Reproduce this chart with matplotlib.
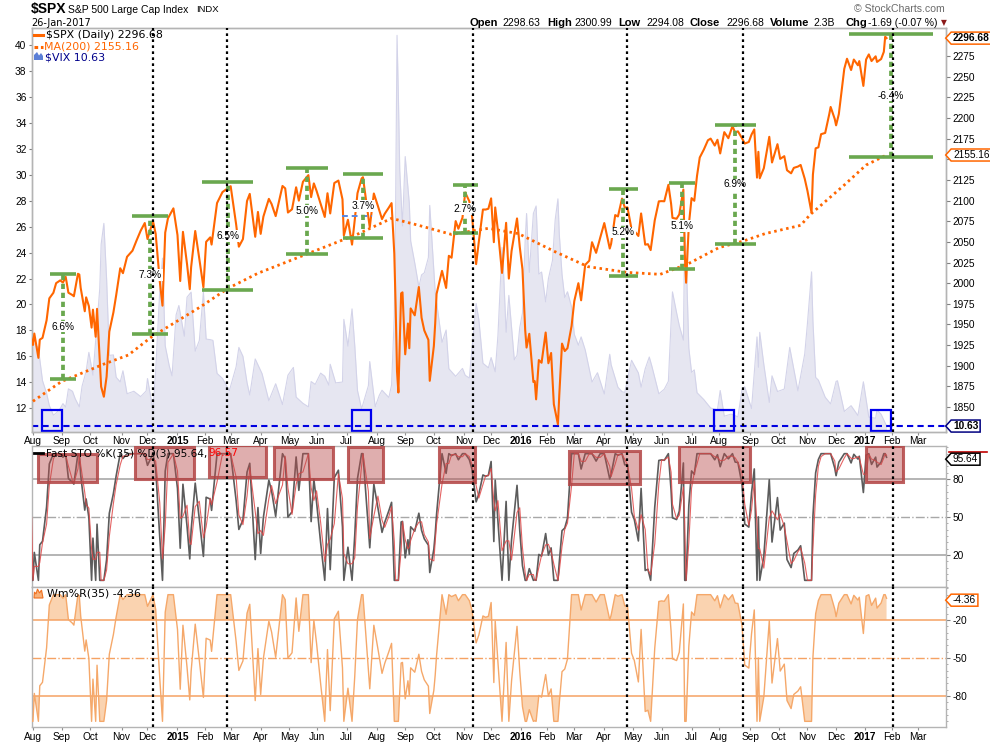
import numpy as np
import pandas as pd
import matplotlib
matplotlib.use("Agg")
import matplotlib.pyplot as plt
from matplotlib.path import Path
from matplotlib.patches import Rectangle, Polygon
from matplotlib.ticker import MultipleLocator, FixedFormatter, FixedLocator
from matplotlib.transforms import blended_transform_factory
from matplotlib.lines import Line2D

# ---------------- data ----------------
HOLIDAYS = ["2014-07-04", "2014-09-01", "2014-11-27", "2014-12-25",
            "2015-01-01", "2015-01-19", "2015-02-16", "2015-04-03", "2015-05-25",
            "2015-07-03", "2015-09-07", "2015-11-26", "2015-12-25",
            "2016-01-01", "2016-01-18", "2016-02-15", "2016-03-25", "2016-05-30",
            "2016-07-04", "2016-09-05", "2016-11-24", "2016-12-26",
            "2017-01-02", "2017-01-16", "2017-02-20", "2017-04-14"]

SPX_DATES = [
    "2014-06-20", "2014-06-27", "2014-07-03", "2014-07-11", "2014-07-17", "2014-07-24", "2014-07-31",
    "2014-08-01", "2014-08-04", "2014-08-07", "2014-08-08", "2014-08-12", "2014-08-15", "2014-08-19",
    "2014-08-22", "2014-08-26", "2014-08-29", "2014-09-03", "2014-09-05", "2014-09-09", "2014-09-12",
    "2014-09-15", "2014-09-18", "2014-09-19", "2014-09-22", "2014-09-25", "2014-09-26", "2014-09-30",
    "2014-10-02", "2014-10-03", "2014-10-07", "2014-10-08", "2014-10-10", "2014-10-13", "2014-10-15",
    "2014-10-17", "2014-10-21", "2014-10-24", "2014-10-28", "2014-10-31", "2014-11-04", "2014-11-07",
    "2014-11-13", "2014-11-18", "2014-11-21", "2014-11-26", "2014-12-01", "2014-12-05", "2014-12-09",
    "2014-12-12", "2014-12-16", "2014-12-18", "2014-12-22", "2014-12-29", "2015-01-02", "2015-01-06",
    "2015-01-08", "2015-01-13", "2015-01-15", "2015-01-16", "2015-01-22", "2015-01-27", "2015-01-30",
    "2015-02-03", "2015-02-06", "2015-02-09", "2015-02-13", "2015-02-20", "2015-02-25", "2015-03-02",
    "2015-03-06", "2015-03-10", "2015-03-13", "2015-03-18", "2015-03-20", "2015-03-26", "2015-03-30",
    "2015-04-01", "2015-04-06", "2015-04-10", "2015-04-14", "2015-04-17", "2015-04-24", "2015-04-28",
    "2015-04-30", "2015-05-05", "2015-05-08", "2015-05-12", "2015-05-15", "2015-05-21", "2015-05-26",
    "2015-05-28", "2015-06-01", "2015-06-04", "2015-06-09", "2015-06-11", "2015-06-15", "2015-06-18",
    "2015-06-23", "2015-06-26", "2015-06-29", "2015-07-02", "2015-07-08", "2015-07-10", "2015-07-14",
    "2015-07-17", "2015-07-20", "2015-07-24", "2015-07-27", "2015-07-30", "2015-08-04", "2015-08-07",
    "2015-08-11", "2015-08-14", "2015-08-18", "2015-08-20", "2015-08-21", "2015-08-24", "2015-08-25",
    "2015-08-27", "2015-08-28", "2015-09-01", "2015-09-03", "2015-09-04", "2015-09-08", "2015-09-11",
    "2015-09-16", "2015-09-18", "2015-09-22", "2015-09-25", "2015-09-28", "2015-10-01", "2015-10-02",
    "2015-10-05", "2015-10-09", "2015-10-14", "2015-10-16", "2015-10-20", "2015-10-23", "2015-10-27",
    "2015-10-30", "2015-11-03", "2015-11-06", "2015-11-10", "2015-11-13", "2015-11-17", "2015-11-20",
    "2015-11-24", "2015-11-27", "2015-12-01", "2015-12-03", "2015-12-04", "2015-12-08", "2015-12-11",
    "2015-12-16", "2015-12-18", "2015-12-22", "2015-12-29", "2015-12-31", "2016-01-05", "2016-01-07",
    "2016-01-08", "2016-01-12", "2016-01-15", "2016-01-19", "2016-01-20", "2016-01-22", "2016-01-26",
    "2016-01-29", "2016-02-02", "2016-02-04", "2016-02-08", "2016-02-11", "2016-02-12", "2016-02-17",
    "2016-02-19", "2016-02-23", "2016-02-26", "2016-03-01", "2016-03-04", "2016-03-08", "2016-03-11",
    "2016-03-16", "2016-03-18", "2016-03-23", "2016-03-29", "2016-04-01", "2016-04-07", "2016-04-08",
    "2016-04-13", "2016-04-15", "2016-04-20", "2016-04-22", "2016-04-26", "2016-04-29", "2016-05-03",
    "2016-05-06", "2016-05-10", "2016-05-13", "2016-05-17", "2016-05-19", "2016-05-24", "2016-05-27",
    "2016-06-01", "2016-06-03", "2016-06-08", "2016-06-10", "2016-06-13", "2016-06-16", "2016-06-20",
    "2016-06-23", "2016-06-24", "2016-06-27", "2016-06-29", "2016-07-01", "2016-07-06", "2016-07-08",
    "2016-07-12", "2016-07-15", "2016-07-20", "2016-07-22", "2016-07-27", "2016-07-29", "2016-08-02",
    "2016-08-05", "2016-08-10", "2016-08-15", "2016-08-17", "2016-08-19", "2016-08-24", "2016-08-26",
    "2016-08-31", "2016-09-02", "2016-09-07", "2016-09-09", "2016-09-12", "2016-09-13", "2016-09-16",
    "2016-09-22", "2016-09-26", "2016-09-30", "2016-10-04", "2016-10-07", "2016-10-11", "2016-10-14",
    "2016-10-18", "2016-10-21", "2016-10-25", "2016-10-28", "2016-11-01", "2016-11-04", "2016-11-07",
    "2016-11-09", "2016-11-11", "2016-11-15", "2016-11-18", "2016-11-23", "2016-11-25", "2016-11-30",
    "2016-12-01", "2016-12-05", "2016-12-09", "2016-12-13", "2016-12-16", "2016-12-20", "2016-12-23",
    "2016-12-27", "2016-12-30", "2017-01-04", "2017-01-06", "2017-01-10", "2017-01-13", "2017-01-17",
    "2017-01-20", "2017-01-24", "2017-01-25", "2017-01-26"]
SPX_CLOSE = [
    1962.87, 1960.96, 1985.44, 1967.57, 1958.12, 1987.98, 1930.67,
    1925.15, 1938.99, 1909.57, 1931.59, 1933.75, 1955.06, 1981.60,
    1988.40, 2000.02, 2003.37, 2000.72, 2007.71, 1988.44, 1985.54,
    1984.13, 2011.36, 2010.40, 1994.29, 1965.99, 1982.85, 1972.29,
    1946.17, 1967.90, 1935.10, 1968.89, 1906.13, 1874.74, 1862.49,
    1886.76, 1941.28, 1964.58, 1985.05, 2018.05, 2012.10, 2031.92,
    2039.33, 2051.80, 2063.50, 2072.83, 2053.44, 2075.37, 2059.82,
    2002.33, 1972.74, 2061.23, 2078.54, 2090.57, 2058.20, 2002.61,
    2062.14, 2023.03, 1992.67, 2019.42, 2063.15, 2029.55, 1994.99,
    2050.03, 2055.47, 2046.74, 2096.99, 2110.30, 2113.86, 2117.39,
    2071.26, 2044.16, 2053.40, 2099.50, 2108.10, 2056.15, 2086.24,
    2059.69, 2080.62, 2102.06, 2095.84, 2081.18, 2117.69, 2114.76,
    2085.51, 2089.46, 2116.10, 2099.87, 2122.73, 2130.82, 2104.20,
    2120.79, 2111.73, 2095.84, 2080.15, 2108.86, 2084.43, 2121.24,
    2124.20, 2101.49, 2057.64, 2076.78, 2046.68, 2076.62, 2108.95,
    2126.64, 2128.28, 2079.65, 2067.64, 2108.57, 2093.32, 2077.57,
    2084.07, 2091.54, 2096.92, 2035.73, 1970.89, 1893.21, 1867.61,
    1987.66, 1988.87, 1913.85, 1951.13, 1921.22, 1969.41, 1961.05,
    1995.31, 1958.08, 1942.74, 1931.34, 1881.77, 1923.82, 1951.36,
    1987.05, 2014.89, 1994.24, 2033.11, 2030.77, 2075.15, 2065.89,
    2079.36, 2109.79, 2099.20, 2081.72, 2023.04, 2050.44, 2089.17,
    2089.14, 2090.11, 2102.63, 2049.62, 2091.69, 2063.59, 2012.37,
    2073.07, 2005.55, 2038.97, 2078.36, 2043.94, 2016.71, 1943.09,
    1922.03, 1938.68, 1880.33, 1881.33, 1859.33, 1906.90, 1903.63,
    1940.24, 1903.03, 1915.45, 1853.44, 1829.08, 1864.78, 1926.82,
    1917.78, 1921.27, 1948.05, 1978.35, 1999.99, 1979.26, 2022.19,
    2027.22, 2049.58, 2036.71, 2055.01, 2072.78, 2041.91, 2047.60,
    2082.42, 2080.73, 2102.40, 2091.58, 2091.70, 2065.30, 2063.37,
    2057.14, 2084.39, 2046.61, 2047.21, 2040.04, 2076.06, 2099.06,
    2099.33, 2099.13, 2119.12, 2096.07, 2079.06, 2077.99, 2083.25,
    2113.32, 2037.41, 2000.54, 2070.77, 2102.95, 2099.73, 2129.90,
    2152.14, 2161.74, 2173.02, 2175.03, 2166.58, 2173.60, 2157.03,
    2182.87, 2175.49, 2190.15, 2182.22, 2183.87, 2175.44, 2169.04,
    2170.95, 2179.98, 2186.16, 2127.81, 2159.04, 2127.02, 2139.16,
    2177.18, 2146.10, 2168.27, 2150.49, 2153.74, 2136.73, 2132.98,
    2139.60, 2141.16, 2143.16, 2126.41, 2111.72, 2085.18, 2131.52,
    2163.26, 2164.45, 2180.39, 2181.90, 2204.72, 2213.35, 2198.81,
    2191.08, 2204.71, 2259.53, 2271.72, 2258.07, 2270.76, 2263.79,
    2268.88, 2238.83, 2270.75, 2276.98, 2268.90, 2274.64, 2267.89,
    2271.31, 2280.07, 2298.37, 2296.68]

MA200_DATES = ["2014-08-01", "2014-09-02", "2014-10-15", "2014-11-10", "2014-12-04", "2015-01-28",
               "2015-02-26", "2015-03-30", "2015-05-21", "2015-07-15", "2015-08-18", "2015-09-15",
               "2015-10-20", "2015-11-27", "2015-12-30", "2016-02-09", "2016-03-15", "2016-04-26",
               "2016-05-31", "2016-06-28", "2016-08-01", "2016-08-25", "2016-09-19", "2016-10-25",
               "2016-11-03", "2016-12-09", "2017-01-04", "2017-01-26"]
MA200_VALUES = [1857, 1881, 1902, 1913, 1935, 1971.5,
                1993.7, 2012, 2036, 2060, 2078.5, 2070.4,
                2059, 2066.4, 2060, 2038, 2020, 2013,
                2010.7, 2023, 2043, 2051, 2060, 2070,
                2083, 2118.8, 2143, 2155.16]

VIX_DATES = [
    "2014-07-31", "2014-08-01", "2014-08-05", "2014-08-07", "2014-08-08", "2014-08-12", "2014-08-15",
    "2014-08-19", "2014-08-22", "2014-08-26", "2014-08-29", "2014-09-03", "2014-09-05", "2014-09-09",
    "2014-09-12", "2014-09-16", "2014-09-19", "2014-09-23", "2014-09-26", "2014-09-30", "2014-10-03",
    "2014-10-07", "2014-10-10", "2014-10-13", "2014-10-15", "2014-10-17", "2014-10-21", "2014-10-24",
    "2014-10-28", "2014-10-31", "2014-11-04", "2014-11-07", "2014-11-14", "2014-11-21", "2014-11-28",
    "2014-12-01", "2014-12-05", "2014-12-09", "2014-12-12", "2014-12-16", "2014-12-18", "2014-12-23",
    "2014-12-26", "2014-12-31", "2015-01-05", "2015-01-09", "2015-01-13", "2015-01-16", "2015-01-22",
    "2015-01-27", "2015-01-30", "2015-02-03", "2015-02-06", "2015-02-10", "2015-02-13", "2015-02-20",
    "2015-02-27", "2015-03-06", "2015-03-10", "2015-03-13", "2015-03-18", "2015-03-20", "2015-03-26",
    "2015-04-02", "2015-04-10", "2015-04-17", "2015-04-24", "2015-04-30", "2015-05-06", "2015-05-08",
    "2015-05-15", "2015-05-21", "2015-05-26", "2015-05-29", "2015-06-04", "2015-06-09", "2015-06-12",
    "2015-06-15", "2015-06-19", "2015-06-26", "2015-06-29", "2015-07-02", "2015-07-08", "2015-07-10",
    "2015-07-14", "2015-07-17", "2015-07-24", "2015-07-27", "2015-07-31", "2015-08-05", "2015-08-07",
    "2015-08-14", "2015-08-18", "2015-08-20", "2015-08-21", "2015-08-24", "2015-08-25", "2015-08-26",
    "2015-08-28", "2015-09-01", "2015-09-04", "2015-09-08", "2015-09-11", "2015-09-16", "2015-09-18",
    "2015-09-22", "2015-09-25", "2015-09-28", "2015-10-02", "2015-10-06", "2015-10-09", "2015-10-14",
    "2015-10-16", "2015-10-23", "2015-10-30", "2015-11-03", "2015-11-06", "2015-11-13", "2015-11-17",
    "2015-11-20", "2015-11-27", "2015-12-01", "2015-12-04", "2015-12-08", "2015-12-11", "2015-12-14",
    "2015-12-16", "2015-12-18", "2015-12-24", "2015-12-29", "2015-12-31", "2016-01-05", "2016-01-07",
    "2016-01-08", "2016-01-12", "2016-01-15", "2016-01-20", "2016-01-22", "2016-01-26", "2016-01-29",
    "2016-02-02", "2016-02-05", "2016-02-09", "2016-02-11", "2016-02-12", "2016-02-17", "2016-02-19",
    "2016-02-23", "2016-02-26", "2016-03-01", "2016-03-04", "2016-03-08", "2016-03-11", "2016-03-18",
    "2016-03-24", "2016-04-01", "2016-04-07", "2016-04-08", "2016-04-15", "2016-04-20", "2016-04-22",
    "2016-04-29", "2016-05-06", "2016-05-10", "2016-05-13", "2016-05-18", "2016-05-20", "2016-05-27",
    "2016-06-03", "2016-06-08", "2016-06-13", "2016-06-16", "2016-06-20", "2016-06-23", "2016-06-24",
    "2016-06-27", "2016-06-29", "2016-07-01", "2016-07-06", "2016-07-08", "2016-07-15", "2016-07-22",
    "2016-07-29", "2016-08-02", "2016-08-05", "2016-08-12", "2016-08-19", "2016-08-24", "2016-08-26",
    "2016-09-02", "2016-09-09", "2016-09-12", "2016-09-13", "2016-09-16", "2016-09-22", "2016-09-26",
    "2016-09-30", "2016-10-07", "2016-10-13", "2016-10-14", "2016-10-21", "2016-10-28", "2016-11-01",
    "2016-11-04", "2016-11-07", "2016-11-09", "2016-11-11", "2016-11-18", "2016-11-25", "2016-12-01",
    "2016-12-02", "2016-12-09", "2016-12-16", "2016-12-23", "2016-12-30", "2017-01-06", "2017-01-13",
    "2017-01-17", "2017-01-20", "2017-01-26"]
VIX_CLOSE = [
    16.95, 17.03, 16.87, 16.66, 15.77, 14.13, 13.15,
    12.21, 11.47, 11.63, 11.98, 12.36, 12.09, 13.50,
    13.31, 12.73, 12.11, 13.69, 14.85, 16.31, 14.55,
    17.20, 21.24, 24.64, 26.25, 21.99, 16.08, 16.11,
    14.39, 14.03, 14.89, 13.12, 13.31, 12.90, 13.33,
    14.29, 11.89, 14.89, 21.08, 23.57, 16.81, 15.25,
    14.50, 19.20, 19.92, 17.55, 20.56, 20.95, 16.40,
    17.22, 20.97, 17.33, 17.29, 17.23, 14.69, 14.30,
    13.34, 15.20, 16.69, 16.00, 13.97, 13.02, 15.80,
    14.67, 12.58, 13.89, 12.29, 14.55, 15.15, 12.86,
    12.38, 12.11, 14.06, 13.84, 14.71, 14.47, 13.78,
    15.39, 13.96, 14.02, 18.85, 16.79, 19.66, 16.83,
    13.37, 11.95, 13.74, 15.60, 12.12, 13.00, 13.39,
    12.83, 13.79, 19.14, 28.03, 40.74, 36.02, 30.32,
    26.05, 31.40, 27.80, 24.90, 23.20, 21.35, 22.28,
    22.44, 23.62, 27.63, 20.94, 19.40, 17.08, 18.03,
    15.05, 14.46, 15.07, 14.54, 14.33, 20.08, 18.84,
    15.47, 15.12, 15.91, 14.81, 17.60, 24.39, 22.73,
    17.86, 20.70, 15.74, 16.08, 18.21, 19.34, 24.99,
    27.01, 22.47, 27.02, 27.59, 22.34, 22.50, 20.20,
    21.98, 23.38, 26.54, 28.14, 25.40, 22.31, 20.53,
    20.98, 19.81, 17.70, 16.86, 17.50, 16.50, 14.02,
    14.74, 13.10, 16.16, 15.36, 13.62, 13.28, 13.22,
    15.70, 14.72, 13.63, 15.04, 15.95, 15.20, 13.12,
    13.47, 14.08, 20.97, 19.37, 18.37, 17.25, 25.76,
    23.85, 16.64, 14.77, 14.96, 13.20, 12.67, 12.02,
    11.87, 13.37, 11.39, 11.55, 11.34, 13.45, 13.65,
    11.98, 17.50, 15.16, 17.85, 15.37, 12.45, 14.50,
    13.29, 13.48, 16.69, 16.12, 13.34, 16.19, 18.56,
    22.51, 18.71, 14.38, 14.17, 12.85, 12.34, 14.07,
    14.12, 11.75, 12.20, 11.44, 14.04, 11.32, 11.23,
    11.87, 11.54, 10.63]

# annotations
MARK_DATES = ["2014-12-05", "2015-02-25", "2015-11-11", "2016-04-26", "2016-08-25", "2017-02-02"]

RANGE_CENTER = ["2014-09-03", "2014-12-03", "2015-02-26", "2015-05-20", "2015-07-20",
                "2015-11-03", "2016-04-21", "2016-06-22", "2016-08-17", "2017-01-31"]
RANGE_TOP = [2010.7, 2081.7, 2122.0, 2139.8, 2132.5, 2119.2, 2114.0, 2121.6, 2191.8, 2301.6]
RANGE_BOTTOM = [1884.0, 1938.8, 1991.7, 2035.7, 2055.0, 2061.0, 2009.0, 2017.0, 2047.4, 2152.4]
RANGE_LABELS = ["6.6%", "7.3%", "6.5%", "5.0%", "3.7%", "2.7%", "5.2%", "5.1%", "6.9%", "-6.4%"]
RANGE_HALF_DAYS = [9.5, 13.2, 18.7, 15.3, 14.9, 9.3, 10.6, 9.4, 14.9, 30.8]
BLUE_DASH_DATES = ["2015-06-26", "2015-07-29"]
BLUE_DASH_VALUE = 2081.7

VIX_LOW_DATES = ["2014-08-21", "2015-07-17", "2016-08-05", "2017-01-20"]
VIX_BOX_TOP = 11.9

STO_BOX_START = ["2014-08-07", "2014-11-17", "2015-02-05", "2015-04-16", "2015-07-02",
                 "2015-10-07", "2016-02-24", "2016-06-20", "2017-01-04"]
STO_BOX_END = ["2014-10-08", "2015-01-21", "2015-04-08", "2015-06-17", "2015-08-10",
               "2015-11-12", "2016-05-09", "2016-09-01", "2017-02-13"]
STO_BOX_TOP = [99.5, 105.5, 106.5, 105.5, 105.5, 105.5, 102.0, 105.8, 105.8]
STO_BOX_BOTTOM = [78.0, 79.8, 81.3, 79.8, 78.0, 78.0, 76.0, 78.0, 78.0]

MONTH_STARTS = pd.date_range("2014-08-01", "2017-03-01", freq="MS")

# ---------------- helpers ----------------
W, H = 990, 744
plt.rcParams["font.family"] = ["Liberation Sans", "DejaVu Sans"]
plt.rcParams["axes.unicode_minus"] = False

cal = pd.bdate_range("2014-06-01", "2017-04-28", freq="C", holidays=HOLIDAYS)
origin = cal.searchsorted(pd.Timestamp("2014-08-01"))


def tday(dates):
    return np.asarray(cal.searchsorted(pd.to_datetime(dates))) - origin


spx_x = tday(SPX_DATES)
spx = np.array(SPX_CLOSE)
ma_x = tday(MA200_DATES)
ma = np.array(MA200_VALUES)
vix_x = tday(VIX_DATES)
vix = np.array(VIX_CLOSE)

# Fast stochastic / Williams %R (35 trading days) computed from the closes
K = np.empty(len(spx))
for i in range(len(spx)):
    m = (spx_x >= spx_x[i] - 34) & (spx_x <= spx_x[i])
    hh, ll = spx[m].max(), spx[m].min()
    K[i] = 100 * (spx[i] - ll) / (hh - ll) if hh > ll else 50.0
D = pd.Series(K).rolling(2, min_periods=1).mean().values
WR = K - 100

XMIN, XMAX = -0.7, 669.6
VIX_LO, VIX_HI = 10.21, 41.33
SPX_LO, SPX_HI = 1820.4, 2309.3
STO_LO, STO_HI = -5.26, 106.05
WR_LO, WR_HI = -104.7, 6.05

ORANGE = "#ff6600"
GREEN = "#6aa84f"
FRAME = "#b4b4b4"

fig = plt.figure(figsize=(W / 100, H / 100), dpi=100)
Lf, Rf = 32 / W, 946 / W
ax = fig.add_axes([Lf, 1 - 431.5 / H, Rf - Lf, (431.5 - 27.7) / H])
ax2 = ax.twinx()
axs = fig.add_axes([Lf, 1 - 587 / H, Rf - Lf, (587 - 446) / H], sharex=ax)
axw = fig.add_axes([Lf, 1 - 727.3 / H, Rf - Lf, (727.3 - 587) / H], sharex=ax)

for a in (ax, ax2, axs, axw):
    for s in a.spines.values():
        s.set_color(FRAME)
        s.set_linewidth(1.0)

# ---- main panel: VIX area (left axis) ----
ax.fill_between(vix_x, vix, VIX_LO, color="#e6e6f1", lw=0, zorder=1)
ax.plot(vix_x, vix, color="#d3d3e9", lw=0.8, zorder=1.5)
ax.axhline(vix[-1], color="#0000e0", lw=1.5, ls=(0, (3, 2)), zorder=3)
for d in tday(VIX_LOW_DATES):
    ax.add_patch(Rectangle((d - 7.2, VIX_LO + 0.06), 14.4, VIX_BOX_TOP - VIX_LO - 0.06,
                           fill=False, ec="#0000ee", lw=1.6, zorder=4))
ax.set_ylim(VIX_LO, VIX_HI)
ax.set_xlim(XMIN, XMAX)
ax.set_yticks(np.arange(12, 41, 2))
ax.tick_params(axis="y", left=True, right=False, labelleft=True, length=2.5, pad=1.5,
               labelsize=7.3, color="#808080")

# ---- main panel: SPX (right axis) ----
ax2.plot(ma_x, ma, color=ORANGE, lw=2.0, ls=(0, (0.9, 1.3)), zorder=4)
ax2.plot(spx_x, spx, color=ORANGE, lw=1.5, zorder=5)
for c, top, bot, lab, hw in zip(tday(RANGE_CENTER), RANGE_TOP, RANGE_BOTTOM, RANGE_LABELS, RANGE_HALF_DAYS):
    ax2.plot([c - hw, c + hw], [top, top], color=GREEN, lw=2.6, solid_capstyle="butt", zorder=7)
    ax2.plot([c - hw, c + hw], [bot, bot], color=GREEN, lw=2.6, solid_capstyle="butt", zorder=7)
    ax2.plot([c, c], [bot, top], color=GREEN, lw=2.7, ls=(0, (1.4, 1.0)), zorder=7)
    ax2.text(c, (top + bot) / 2, lab, ha="center", va="center", fontsize=7.3, zorder=8,
             bbox=dict(fc="white", ec="none", pad=0.6))
bd = tday(BLUE_DASH_DATES)
ax2.plot(bd, [BLUE_DASH_VALUE, BLUE_DASH_VALUE], color="#5a86e0", lw=1.4, ls=(0, (3, 2)), zorder=6)
ax2.set_ylim(SPX_LO, SPX_HI)
spx_ticks = np.arange(1850, 2301, 25)
ax2.yaxis.set_major_locator(FixedLocator(spx_ticks))
# labels hidden behind the value tags are left blank
ax2.yaxis.set_major_formatter(FixedFormatter(["" if t in (2150, 2300) else str(t) for t in spx_ticks]))
ax2.tick_params(axis="y", right=True, labelright=True, length=3, pad=1.5, labelsize=7.3, color="#808080")

for a in (ax2, axs, axw):
    for d in tday(MARK_DATES):
        a.axvline(d, color="black", lw=1.6, ls=(0, (1.2, 1.5)), zorder=9)

# ---- stochastic panel ----
axs.plot(spx_x, K, color="#5c5c5c", lw=1.2, zorder=3)
axs.plot(spx_x, D, color="#e04848", lw=0.8, alpha=0.85, zorder=3.5)
for yv in (80, 20):
    axs.axhline(yv, color="#a8a8a8", lw=1.2, zorder=1)
axs.axhline(50, color="#a8a8a8", lw=1.0, ls="-.", zorder=1)
for s0, s1, t, b in zip(tday(STO_BOX_START), tday(STO_BOX_END), STO_BOX_TOP, STO_BOX_BOTTOM):
    axs.add_patch(Rectangle((s0, b), s1 - s0, t - b, fc=(0.72, 0.3, 0.3, 0.45),
                            ec=(0.7, 0.27, 0.27, 0.85), lw=2.2, zorder=5))
axs.set_ylim(STO_LO, STO_HI)
axs.yaxis.tick_right()
axs.set_yticks([20, 50, 80])
axs.yaxis.set_minor_locator(MultipleLocator(5))
axs.tick_params(axis="y", which="major", length=3, pad=1.5, labelsize=7.3, color="#808080")
axs.tick_params(axis="y", which="minor", length=1.5, color="#a0a0a0")

# ---- Williams %R panel ----
WR_FILL = "#fad3b0"
WR_LINE = "#f5a86a"
axw.fill_between(spx_x, WR, -20, where=WR > -20, interpolate=True, color=WR_FILL, lw=0, zorder=1)
axw.fill_between(spx_x, WR, -80, where=WR < -80, interpolate=True, color=WR_FILL, lw=0, zorder=1)
axw.plot(spx_x, WR, color=WR_LINE, lw=1.0, zorder=3)
for yv in (-20, -80):
    axw.axhline(yv, color="#f5a263", lw=1.1, zorder=2)
axw.axhline(-50, color="#f5a263", lw=1.0, ls="-.", zorder=2)
axw.set_ylim(WR_LO, WR_HI)
axw.yaxis.tick_right()
axw.set_yticks([-80, -50, -20])
axw.yaxis.set_minor_locator(MultipleLocator(5))
axw.tick_params(axis="y", which="major", length=3, pad=1.5, labelsize=7.3, color="#808080")
axw.tick_params(axis="y", which="minor", length=1.5, color="#a0a0a0")

# ---- x axis months ----
mpos = tday(MONTH_STARTS)
mlab = [d.strftime("%Y") if d.month == 1 else d.strftime("%b") for d in MONTH_STARTS]
ax.set_xticks(mpos)
ax.set_xticklabels(mlab)
ax.set_xlim(XMIN, XMAX)
for a in (ax, axs, axw):
    a.tick_params(axis="x", length=2, pad=1.5, labelsize=7.3, color="#909090")
axs.tick_params(axis="x", labelbottom=False)
ax2.tick_params(axis="x", labelbottom=False)
for a in (ax, axw):
    for lbl in a.get_xticklabels():
        if lbl.get_text().isdigit():
            lbl.set_fontweight("bold")


# ---- value tags on the right ----
def tag_style(x0, y0, width, height, mutation_size):
    px, py = 0.18 * mutation_size, 0.10 * mutation_size
    a0, b0 = x0 - px, y0 - py
    a1, b1 = x0 + width + px, y0 + height + py
    tip = (a0 - (b1 - b0) * 0.45, (b0 + b1) / 2)
    return Path([(a0, b0), (a1, b0), (a1, b1), (a0, b1), tip, (a0, b0)], closed=True)


def tag(axis, yaxis_owner, val, text, ec, weight="normal"):
    tr = blended_transform_factory(axis.transAxes, yaxis_owner.transData)
    axis.annotate(text, xy=(1, val), xycoords=tr, xytext=(5, 0), textcoords="offset points",
                  ha="left", va="center", fontsize=7.3, fontweight=weight, color="black",
                  bbox=dict(boxstyle=tag_style, fc="white", ec=ec, lw=1.1),
                  annotation_clip=False, zorder=30)


tag(ax2, ax2, spx[-1], "2296.68", ORANGE, "bold")
tag(ax2, ax2, ma[-1], "2155.16", ORANGE)
tag(ax2, ax, vix[-1], "10.63", "#000080", "bold")
tag(axs, axs, 95.64, "95.64", "black")
# thin red mark of the %D tag peeking above the %K tag
tr_s = blended_transform_factory(axs.transAxes, axs.transData)
axs.plot([1.0035, 1.045], [96.9 + 4.6, 96.9 + 4.6], transform=tr_s, color="#c00000", lw=1.2, clip_on=False, zorder=29)
tag(axw, axw, -4.36, "-4.36", ORANGE)


# ---- header texts ----
def ftext(x, y, s, **kw):
    kw.setdefault("va", "center")
    kw.setdefault("ha", "left")
    return fig.text(x / W, 1 - y / H, s, **kw)


ftext(31, 9.5, "$SPX", fontsize=10, fontweight="bold")
ftext(68.5, 9.8, "S&P 500 Large Cap Index", fontsize=7.5)
ftext(196, 9.8, "INDX", fontsize=6.8)
ftext(31, 22.7, "26-Jan-2017", fontsize=7, family="DejaVu Sans")
ftext(945, 9.5, "\u00a9 StockCharts.com", fontsize=7.6, color="#6b6b6b", ha="right")

pieces = [(470, "Open", True), (502, "2298.63", False), (547, "High", True), (574, "2300.99", False),
          (618, "Low", True), (646, "2294.08", False), (690, "Close", True), (726, "2296.68", False),
          (770, "Volume", True), (813.5, "2.3B", False), (845, "Chg", True), (868, "-1.69 (-0.07 %)", False)]
for xp, s, b in pieces:
    ftext(xp, 22.7, s, fontsize=8 if b else 7.5, fontweight="bold" if b else "normal")
ftext(943.5, 22.3, "\u25bc", fontsize=5.5, color="#8b1a1a", ha="center", family="DejaVu Sans")

# main legend
fig.add_artist(Line2D([34 / W, 43 / W], [1 - 35 / H, 1 - 35 / H], color=ORANGE, lw=2.2))
fig.add_artist(Line2D([34 / W, 43 / W], [1 - 46.5 / H, 1 - 46.5 / H], color=ORANGE, lw=2.2, ls=(0, (1.2, 0.9))))
fig.add_artist(Polygon([(34 / W, 1 - 60 / H), (34 / W, 1 - 55 / H), (37 / W, 1 - 52 / H), (39 / W, 1 - 55.5 / H),
                        (41 / W, 1 - 53 / H), (43 / W, 1 - 56 / H), (43 / W, 1 - 60 / H)],
                       closed=True, transform=fig.transFigure, fc="#5b7fd6", ec="none"))
ftext(46, 35, "$SPX (Daily) 2296.68", fontsize=7.9, family="DejaVu Sans")
ftext(44, 46.5, "MA(200) 2155.16", fontsize=7.9, family="DejaVu Sans", color=ORANGE)
ftext(45, 57, "$VIX 10.63", fontsize=7.9, family="DejaVu Sans", color="#00008b")

# stochastic legend (pieces placed one after another)
renderer = fig.canvas.get_renderer()
fig.add_artist(Line2D([34 / W, 43 / W], [1 - 453.5 / H, 1 - 453.5 / H], color="black", lw=2.0))
t1 = ftext(46, 453.5, "Fast STO %K(35) %D(3) 95.64,", fontsize=7.6, family="DejaVu Sans", zorder=40)
x_end = t1.get_window_extent(renderer).x1 * W / fig.bbox.width
ftext(x_end + 1.5, 453.5, "96.57", fontsize=7.6, family="DejaVu Sans", color="red", zorder=40)

# Williams %R legend
fig.add_artist(Polygon([(34 / W, 1 - 598 / H), (34.5 / W, 1 - 592 / H), (36 / W, 1 - 594 / H), (37.5 / W, 1 - 589 / H),
                        (39.5 / W, 1 - 593 / H), (41.5 / W, 1 - 590 / H), (43 / W, 1 - 598 / H)],
                       closed=True, transform=fig.transFigure, fc="#f8b27a", ec="#f07020", lw=0.8))
ftext(47, 594, "Wm%R(35) -4.36", fontsize=7.9, family="DejaVu Sans")

fig.savefig("out.png", dpi=100)
